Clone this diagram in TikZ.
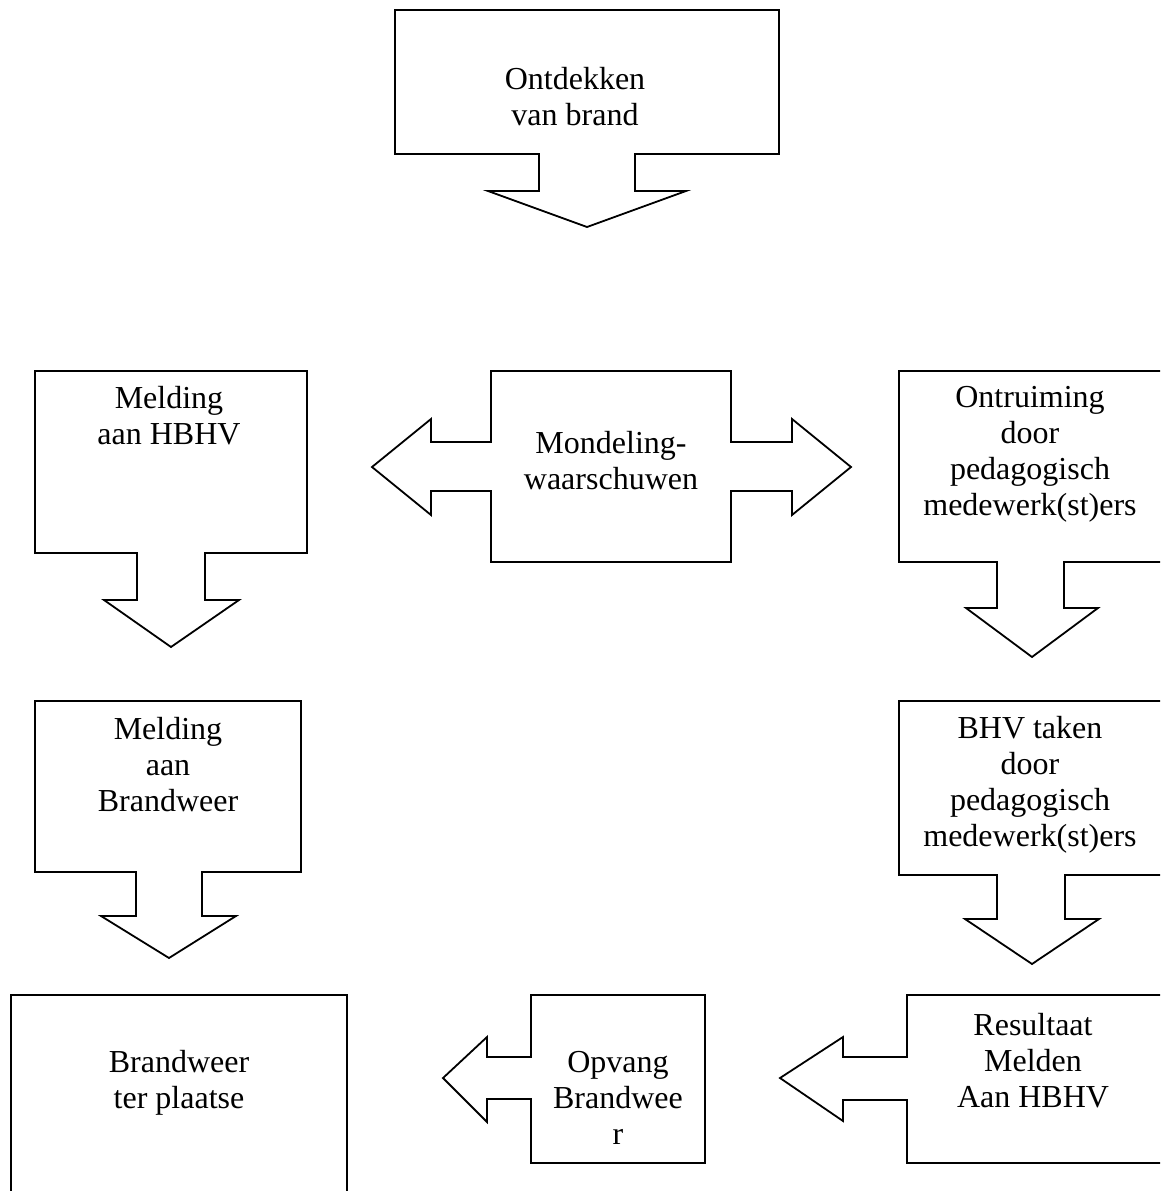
\documentclass[tikz,border=0pt]{standalone}
\usepackage{fontspec}
\setmainfont{Liberation Serif}

\tikzset{
  callout/.style={draw, line width=1.8pt, line join=miter},
  lbl/.style={align=center, inner sep=0pt, font=\fontsize{32}{36}\selectfont}
}

\begin{document}
\begin{tikzpicture}[x=1pt, y=-1pt]

        \useasboundingbox (0,0) rectangle (1160,1191);
        \clip (0,0) rectangle (1160,1191);

        % down arrow callouts
        \draw[callout] (395,10) -- (779,10) -- (779,154) -- (635,154) -- (635,191) -- (686,191) -- (587,227) -- (488,191) -- (539,191) -- (539,154) -- (395,154) -- cycle;
        \draw[callout] (35,371) -- (307,371) -- (307,553) -- (205,553) -- (205,600) -- (239,600) -- (171,647) -- (104,600) -- (137,600) -- (137,553) -- (35,553) -- cycle;
        \draw[callout] (35,701) -- (301,701) -- (301,872) -- (202,872) -- (202,916) -- (236,916) -- (169,958) -- (101,916) -- (136,916) -- (136,872) -- (35,872) -- cycle;
        \draw[callout] (899,371) -- (1165,371) -- (1165,562) -- (1064,562) -- (1064,608) -- (1098,608) -- (1032,657) -- (966,608) -- (997,608) -- (997,562) -- (899,562) -- cycle;
        \draw[callout] (899,701) -- (1165,701) -- (1165,875) -- (1065,875) -- (1065,919) -- (1099,919) -- (1032,964) -- (965,919) -- (997,919) -- (997,875) -- (899,875) -- cycle;

        % left-right arrow callout
        \draw[callout] (491,371) -- (731,371) -- (731,442) -- (792,442) -- (792,419) -- (851,467) -- (792,515) -- (792,491) -- (731,491) -- (731,562) -- (491,562) -- (491,491) -- (431,491) -- (431,515) -- (372,467) -- (431,419) -- (431,442) -- (491,442) -- cycle;

        % left arrow callouts
        \draw[callout] (531,995) -- (705,995) -- (705,1163) -- (531,1163) -- (531,1099) -- (487,1099) -- (487,1122) -- (443,1078) -- (487,1037) -- (487,1057) -- (531,1057) -- cycle;
        \draw[callout] (907,995) -- (1165,995) -- (1165,1163) -- (907,1163) -- (907,1100) -- (843,1100) -- (843,1121) -- (780,1078) -- (843,1037) -- (843,1057) -- (907,1057) -- cycle;

        % plain box
        \draw[callout] (11,995) rectangle (347,1200);

        \node (ontdekken) [lbl] at (575,97) {Ontdekken\\van brand};
        \node (hbhv) [lbl] at (169,416) {Melding\\aan HBHV};
        \node (mondeling) [lbl] at (611,461) {Mondeling-\\waarschuwen};
        \node (ontruiming) [lbl] at (1030,454) {Ontruiming\\door\\pedagogisch\\medewerk(st)ers};
        \node (brandweer) [lbl] at (168,765) {Melding\\aan\\Brandweer};
        \node (bhvtaken) [lbl] at (1030,785) {BHV taken\\door\\pedagogisch\\medewerk(st)ers};
        \node (terplaatse) [lbl] at (179,1083) {Brandweer\\ter plaatse};
        \node (opvang) [lbl] at (618,1098) {Opvang\\Brandwee\\r};
        \node (resultaat) [lbl] at (1033,1061) {Resultaat\\Melden\\Aan HBHV};

      \end{tikzpicture}
\end{document}
